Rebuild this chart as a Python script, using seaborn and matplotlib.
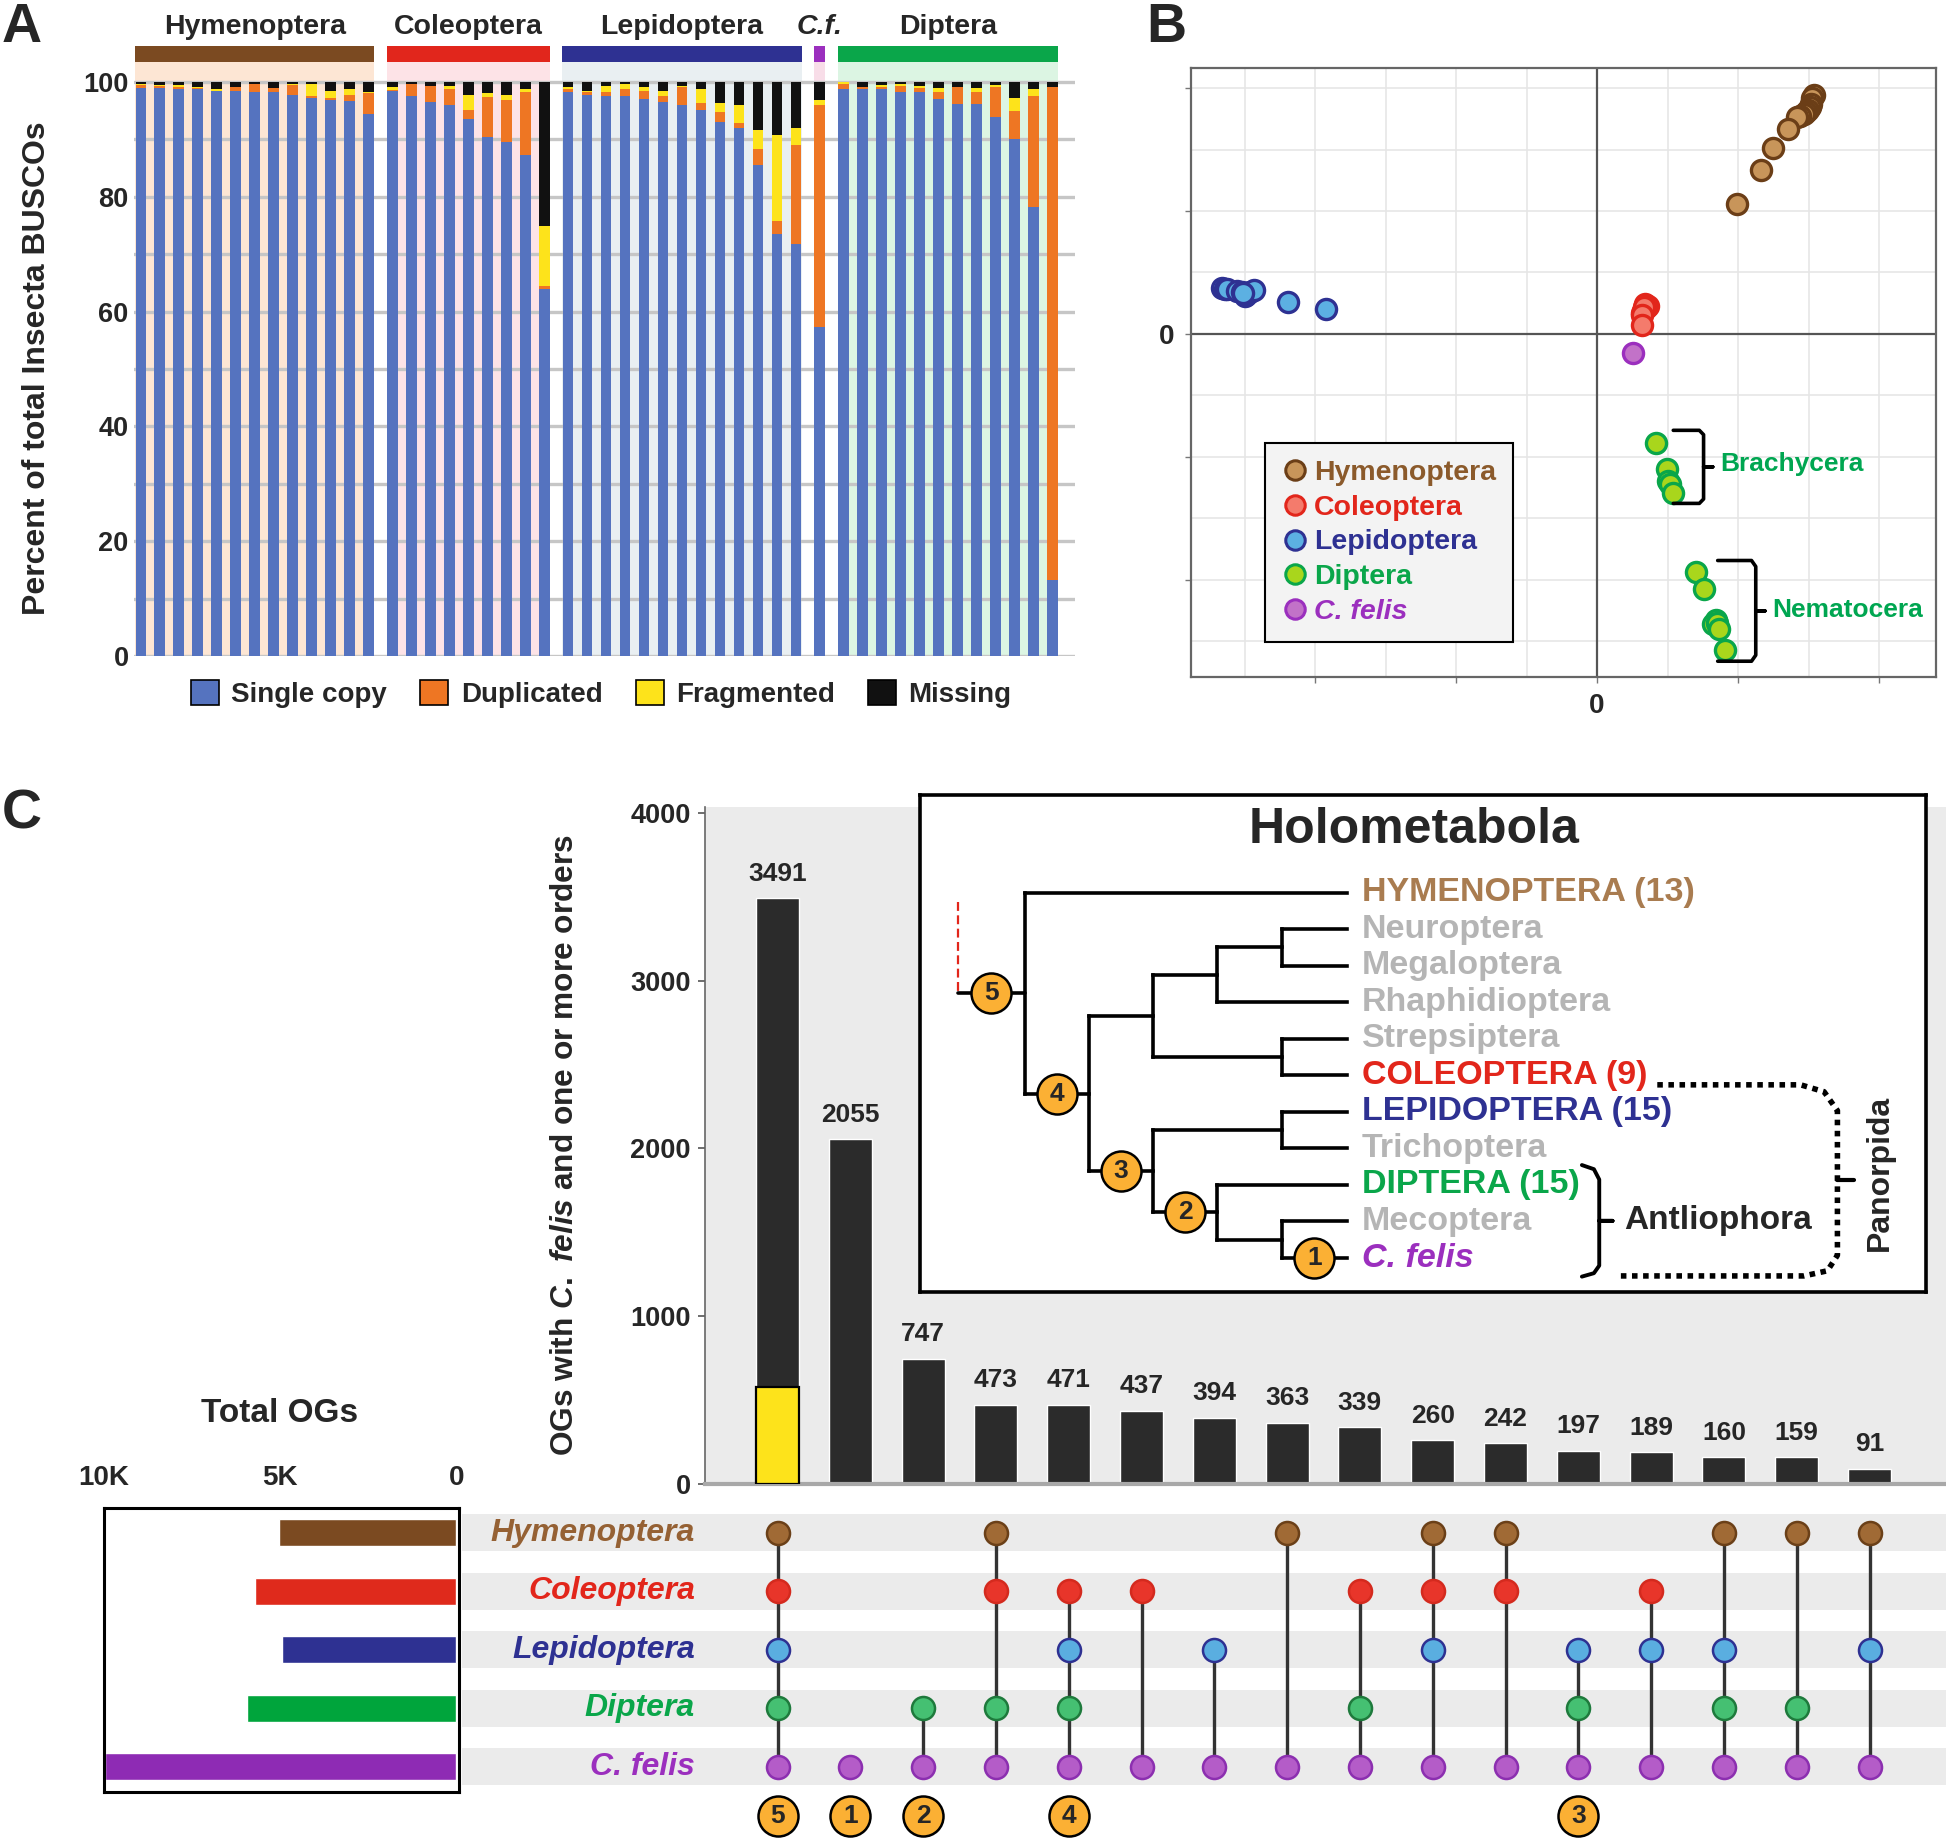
import numpy as np
import pandas as pd
import seaborn as sns
import matplotlib.pyplot as plt
from matplotlib.patches import Patch
from matplotlib.lines import Line2D

sns.set_theme(style='white')
plt.rcParams['font.family'] = ['Liberation Sans', 'DejaVu Sans']
plt.rcParams['font.weight'] = 'bold'
plt.rcParams['mathtext.fontset'] = 'custom'
plt.rcParams['mathtext.it'] = 'Liberation Sans:italic:bold'
plt.rcParams['mathtext.rm'] = 'Liberation Sans:bold'

# ---------------- Panel A data (BUSCO %) ----------------
group_names = ['Hymenoptera', 'Coleoptera', 'Lepidoptera', 'C.f.', 'Diptera']
group_sizes = [13, 9, 13, 1, 12]
group_colors = ['#7b4a21', '#e1261c', '#2e3192', '#9b2fbe', '#0aa64a']
group_shade = ['#fde6d4', '#fde3e7', '#e9eff2', '#f8dde8', '#dcf5e3']

single = [99.0, 99.0, 98.7, 98.7, 98.4, 98.4, 98.3, 98.3, 97.7, 97.2, 96.9, 96.7, 94.5,
          98.4, 97.6, 96.5, 96.0, 93.5, 90.5, 89.6, 87.3, 63.9,
          98.3, 97.7, 97.6, 97.6, 97.0, 96.5, 96.0, 95.1, 93.0, 92.0, 85.5, 73.5, 71.8,
          57.3,
          98.7, 98.7, 98.7, 98.3, 98.3, 97.0, 96.2, 96.2, 93.9, 90.0, 78.3, 13.3]
duplicated = [0.5, 0.3, 0.5, 0.2, 0.1, 0.8, 1.3, 0.7, 1.8, 0.3, 0.3, 1.1, 3.5,
              0.2, 2.1, 2.8, 2.8, 1.7, 6.8, 7.2, 10.9, 0.6,
              0.5, 0.5, 0.7, 1.2, 1.4, 1.1, 3.1, 1.2, 1.7, 0.8, 2.8, 2.3, 17.2,
              38.7,
              1.0, 0.5, 0.5, 1.0, 0.7, 1.3, 3.0, 2.0, 5.3, 5.0, 19.2, 85.9]
fragmented = [0.1, 0.2, 0.2, 0.3, 0.3, 0.0, 0.1, 0.0, 0.2, 2.2, 1.2, 0.9, 0.2,
              0.6, 0.0, 0.0, 0.5, 2.5, 0.7, 1.0, 0.5, 10.4,
              0.3, 0.3, 1.0, 0.8, 0.8, 0.9, 0.2, 2.5, 1.7, 3.2, 3.3, 15.0, 3.0,
              0.8,
              0.3, 0.0, 0.3, 0.4, 0.3, 0.7, 0.0, 0.8, 0.3, 2.2, 1.2, 0.0]
missing = [0.4, 0.5, 0.6, 0.8, 1.2, 0.8, 0.3, 1.0, 0.3, 0.3, 1.6, 1.3, 1.8,
           0.8, 0.3, 0.7, 0.7, 2.3, 2.0, 2.2, 1.3, 25.1,
           0.9, 1.5, 0.7, 0.4, 0.8, 1.5, 0.7, 1.2, 3.6, 4.0, 8.4, 9.2, 8.0,
           3.2,
           0.0, 0.8, 0.5, 0.3, 0.7, 1.0, 0.8, 1.0, 0.5, 2.8, 1.3, 0.8]
busco_labels = ['Single copy', 'Duplicated', 'Fragmented', 'Missing']
busco_colors = ['#5573bf', '#ee7623', '#fde31b', '#111111']

# ---------------- Panel B data (ordination) ----------------
pc_hym_x = [3.07, 3.05, 3.04, 3.02, 2.99, 2.96, 2.94, 2.88, 2.84, 2.71, 2.50, 2.32, 1.99]
pc_hym_y = [3.89, 3.84, 3.75, 3.70, 3.65, 3.62, 3.58, 3.55, 3.53, 3.33, 3.02, 2.67, 2.11]
pc_col_x = [0.68, 0.72, 0.70, 0.66, 0.63, 0.65, 0.67, 0.64, 0.63]
pc_col_y = [0.48, 0.45, 0.42, 0.40, 0.34, 0.38, 0.44, 0.30, 0.15]
pc_lep_x = [-5.32, -5.28, -5.25, -5.10, -5.04, -5.00, -4.98, -4.96, -4.92, -4.86, -4.39, -3.85, -5.02]
pc_lep_y = [0.74, 0.73, 0.73, 0.70, 0.69, 0.62, 0.64, 0.66, 0.68, 0.71, 0.52, 0.40, 0.67]
pc_dip_x = [0.83, 0.99, 1.01, 1.03, 1.08, 1.40, 1.51, 1.69, 1.65, 1.70, 1.73, 1.81]
pc_dip_y = [-1.77, -2.20, -2.40, -2.45, -2.59, -3.87, -4.15, -4.66, -4.73, -4.70, -4.80, -5.14]
pc_cf_x = [0.51]
pc_cf_y = [-0.31]
pc_names = ['Hymenoptera', 'Coleoptera', 'Lepidoptera', 'Diptera', 'C. felis']
pc_fill = ['#c8955a', '#f47b6c', '#5cb0e2', '#a9d61c', '#c272c8']
pc_edge = ['#6b3e17', '#e2261b', '#2e3192', '#0aa64a', '#9b2fbe']
pc_text = ['#8b5a2b', '#e2261b', '#2e3192', '#0aa64a', '#9b2fbe']

# ---------------- Panel C data (UpSet) ----------------
set_names = ['Hymenoptera', 'Coleoptera', 'Lepidoptera', 'Diptera', 'C. felis']
set_sizes = [5030, 5715, 4955, 5935, 9960]
set_colors = ['#7b4a21', '#df2a1c', '#2e3192', '#00a53c', '#8e2bb4']
label_colors = ['#956134', '#e2261b', '#2e3192', '#0aa64a', '#9b2fbe']
dot_fill = ['#a06a35', '#e8352a', '#5aaee0', '#45c072', '#b45cc8']
dot_edge = ['#6b4018', '#d42a1e', '#2e3192', '#1e7a3c', '#8c2fb0']

inter_counts = [3491, 2055, 747, 473, 471, 437, 394, 363, 339, 260, 242, 197, 189, 160, 159, 91]
inter_members = [[0, 1, 2, 3, 4], [4], [3, 4], [0, 1, 3, 4], [1, 2, 3, 4], [1, 4], [2, 4],
                 [0, 4], [1, 3, 4], [0, 1, 2, 4], [0, 1, 4], [2, 3, 4], [1, 2, 4],
                 [0, 2, 3, 4], [0, 3, 4], [0, 2, 4]]
highlight_count = [580]
node_labels = {0: 5, 1: 1, 2: 2, 4: 4, 11: 3}

tree_leaves = ['HYMENOPTERA (13)', 'Neuroptera', 'Megaloptera', 'Rhaphidioptera',
               'Strepsiptera', 'COLEOPTERA (9)', 'LEPIDOPTERA (15)', 'Trichoptera',
               'DIPTERA (15)', 'Mecoptera', 'C. felis']
grey = '#b5b5b5'
leaf_colors = ['#a97c50', grey, grey, grey, grey, '#e2261b', '#2e3192', grey,
               '#0aa64a', grey, '#9b2fbe']
tree_nodes = {
    'root': (['HYMENOPTERA (13)', 'n4'], 0),
    'n4': (['nA', 'n3'], 1),
    'nA': (['nB', 'nSC'], 2),
    'nB': (['nNM', 'Rhaphidioptera'], 3),
    'nNM': (['Neuroptera', 'Megaloptera'], 4),
    'nSC': (['Strepsiptera', 'COLEOPTERA (9)'], 4),
    'n3': (['nLT', 'n2'], 2),
    'nLT': (['LEPIDOPTERA (15)', 'Trichoptera'], 4),
    'n2': (['DIPTERA (15)', 'n1'], 3),
    'n1': (['Mecoptera', 'C. felis'], 4),
}
tree_marks = {'root': 5, 'n4': 4, 'n3': 3, 'n2': 2, 'C. felis': 1}

fig = plt.figure(figsize=(19.46, 18.38), dpi=100)

# ====================== Panel A ======================
axA = fig.add_axes([0.0689, 0.6431, 0.4836, 0.3326])
pos = []
for g, n in enumerate(group_sizes):
    start = sum(group_sizes[:g])
    pos += [start + k + g * 0.25 for k in range(n)]
pos = np.array(pos)
bw = 0.55
start = 0
for g, n in enumerate(group_sizes):
    x0, x1 = pos[start] - 0.3, pos[start + n - 1] + 0.3
    axA.fill_between([x0, x1], 0, 103.4, color=group_shade[g], zorder=0, lw=0)
    axA.fill_between([x0, x1], 103.4, 106.3, color=group_colors[g], zorder=1, lw=0)
    lab_style = 'italic' if group_names[g] == 'C.f.' else 'normal'
    axA.text((x0 + x1) / 2, 109.6, group_names[g], ha='center', va='center',
             fontsize=20.5, fontweight='bold', style=lab_style, clip_on=False)
    start += n
for yv in range(0, 101, 10):
    axA.axhline(yv, color='#c6c6c6', lw=2.4, zorder=0.5)
bottom = np.zeros(len(pos))
for vals, col in zip([single, duplicated, fragmented, missing], busco_colors):
    axA.bar(pos, vals, bottom=bottom, width=bw, color=col, lw=0, zorder=2)
    bottom += np.array(vals)
axA.set_xlim(-0.35, 49.2)
axA.set_ylim(0, 106.5)
axA.set_xticks([])
axA.set_yticks(range(0, 101, 20))
axA.tick_params(axis='y', length=0, pad=4, labelsize=19.5)
for s in axA.spines.values():
    s.set_visible(False)
axA.set_ylabel('Percent of total Insecta BUSCOs', fontsize=23, fontweight='bold', labelpad=10)
axA.yaxis.set_label_coords(-0.087, 0.47)
handlesA = [Patch(facecolor=c, edgecolor='black', lw=1.2) for c in busco_colors]
fig.legend(handlesA, busco_labels, ncol=4, loc='center', bbox_to_anchor=(0.309, 0.6224),
           frameon=False, handlelength=1.0, handleheight=1.0, handletextpad=0.45,
           columnspacing=1.2, prop={'size': 20, 'weight': 'bold'})

# ====================== Panel B ======================
axB = fig.add_axes([0.612, 0.6319, 0.383, 0.3311])
pc_x = [pc_hym_x, pc_col_x, pc_lep_x, pc_dip_x, pc_cf_x]
pc_y = [pc_hym_y, pc_col_y, pc_lep_y, pc_dip_y, pc_cf_y]
axB.axhline(0, color='#555555', lw=1.6, zorder=1)
axB.axvline(0, color='#555555', lw=1.6, zorder=1)
for i, name in enumerate(pc_names):
    df = pd.DataFrame({'x': pc_x[i], 'y': pc_y[i]})
    sns.scatterplot(data=df, x='x', y='y', color=pc_fill[i], edgecolor=pc_edge[i],
                    linewidth=2.4, s=210, ax=axB, zorder=3)
axB.set_xlim(-5.76, 4.81)
axB.set_ylim(-5.58, 4.33)
axB.set_xticks([-4, -2, 0, 2, 4])
axB.set_xticklabels(['', '', '0', '', ''])
axB.set_yticks([-4, -2, 0, 2, 4])
axB.set_yticklabels(['', '', '0', '', ''])
axB.set_xticks(range(-5, 5), minor=True)
axB.set_yticks(range(-5, 5), minor=True)
axB.grid(which='both', color='#e6e6e6', lw=1.2, zorder=0)
axB.set_axisbelow(True)
axB.tick_params(which='major', length=4, color='#777777', width=1, labelsize=20,
                direction='out', bottom=True, left=True, pad=8)
axB.tick_params(which='minor', length=0)
axB.set_xlabel('')
axB.set_ylabel('')
for s in axB.spines.values():
    s.set_color('#666666')
    s.set_linewidth(1.6)


def bracket(ax, xl, xr, yt, yb, xt, color='black', lw=2.6):
    r = 0.06 * (yt - yb)
    xs = [xl, xr - 0.06, xr, xr, xr, xt, xr, xr, xr, xr - 0.06, xl]
    ym = (yt + yb) / 2
    ys = [yt, yt, yt - r, ym, ym, ym, ym, ym, yb + r, yb, yb]
    ax.plot(xs, ys, color=color, lw=lw, solid_capstyle='round', zorder=4)


bracket(axB, 1.08, 1.51, -1.57, -2.76, 1.64)
axB.text(1.74, -2.12, 'Brachycera', color='#00a651', fontsize=19, fontweight='bold',
         ha='left', va='center')
bracket(axB, 1.71, 2.25, -3.69, -5.33, 2.38)
axB.text(2.48, -4.50, 'Nematocera', color='#00a651', fontsize=19, fontweight='bold',
         ha='left', va='center')
handlesB = [Line2D([], [], marker='o', ls='', markersize=14, markerfacecolor=f,
                   markeredgecolor=e, markeredgewidth=2.2) for f, e in zip(pc_fill, pc_edge)]
legB = axB.legend(handlesB, pc_names, loc='upper left', bbox_to_anchor=(0.1, 0.3833),
                  frameon=True, fancybox=False, edgecolor='black', facecolor='#f3f3f3',
                  framealpha=1, handlelength=0.9, handletextpad=0.2, labelspacing=0.3,
                  borderpad=0.6, borderaxespad=0,
                  prop={'size': 20.5, 'weight': 'bold'})
legB.get_frame().set_linewidth(1.5)
for t, c in zip(legB.get_texts(), pc_text):
    t.set_color(c)
legB.get_texts()[-1].set_style('italic')

# ====================== Panel C: intersection bars ======================
axC = fig.add_axes([0.3622, 0.1926, 0.6378, 0.3686])
axC.set_facecolor('#ebebeb')
sns.barplot(x=list(range(len(inter_counts))), y=inter_counts, color='#2b2b2b',
            saturation=1, width=0.59, ax=axC, zorder=2)
axC.bar([0], highlight_count, width=0.59, color='#fde31b', edgecolor='black', lw=1.6, zorder=3)
for i, v in enumerate(inter_counts):
    axC.text(i, v + 75, str(v), ha='center', va='bottom', fontsize=19, fontweight='bold')
axC.set_xlim(-0.997, 16.05)
axC.set_ylim(0, 4037)
axC.set_xticks([])
axC.set_yticks(range(0, 4001, 1000))
axC.tick_params(axis='y', length=5, width=1.2, color='#555555', left=True,
                labelsize=19.5, pad=5)
axC.set_xlabel('')
axC.set_ylabel('')
axC.spines['top'].set_visible(False)
axC.spines['right'].set_visible(False)
axC.spines['left'].set_color('#666666')
axC.spines['left'].set_linewidth(1.2)
axC.spines['bottom'].set_color('#a8a8a8')
axC.spines['bottom'].set_linewidth(3)
fig.text(0.2902, 0.3768, r'OGs with $\mathit{C.\ felis}$ and one or more orders',
         rotation=90, ha='center', va='center', fontsize=22.8, fontweight='bold')

# ---------------- tree inset ----------------
axT = fig.add_axes([0.4728, 0.297, 0.517, 0.2707])
axT.set_facecolor('white')
axT.set_xlim(30, 1538)
axT.set_ylim(1487, 42)
axT.set_xticks([])
axT.set_yticks([])
for s in axT.spines.values():
    s.set_color('black')
    s.set_linewidth(2.6)

leaf_y = {name: 327 + i * 106.1 for i, name in enumerate(tree_leaves)}
tip_x = 670
node_xy = {}


def place(name):
    if name in leaf_y:
        return tip_x, leaf_y[name]
    kids, level = tree_nodes[name]
    ys = [place(k)[1] for k in kids]
    xy = (187 + level * 96.25, sum(ys) / len(ys))
    node_xy[name] = xy
    return xy


place('root')
parent_x = {'root': 87}
for name, (kids, level) in tree_nodes.items():
    nx, ny = node_xy[name]
    kid_pos = [place(k) for k in kids]
    axT.plot([nx, nx], [min(p[1] for p in kid_pos), max(p[1] for p in kid_pos)],
             color='black', lw=2.6, solid_capstyle='projecting')
    for k, (kx, ky) in zip(kids, kid_pos):
        axT.plot([nx, kx], [ky, ky], color='black', lw=2.6, solid_capstyle='projecting')
        parent_x[k] = nx
rx, ry = node_xy['root']
axT.plot([87, rx], [ry, ry], color='black', lw=2.6)
axT.plot([87, 87], [355, ry], color='#e2261b', lw=1.6, ls=(0, (4, 2)))
for name, num in tree_marks.items():
    cx, cy = node_xy[name] if name in node_xy else (tip_x, leaf_y[name])
    mx = (parent_x[name] + cx) / 2
    axT.scatter([mx], [cy], s=830, color='#fbb034', edgecolor='black', lw=1.8, zorder=5)
    axT.text(mx, cy, str(num), ha='center', va='center', fontsize=19, fontweight='bold', zorder=6)
for name, col in zip(tree_leaves, leaf_colors):
    axT.text(692, leaf_y[name], name, color=col, fontsize=24.5, fontweight='bold',
             ha='left', va='center', style='italic' if name == 'C. felis' else 'normal')
axT.text(770, 145, 'Holometabola', ha='center', va='center', fontsize=36, fontweight='bold')
axT.plot([1022, 1040, 1048, 1048, 1048, 1068, 1048, 1048, 1040, 1022],
         [1118, 1130, 1160, 1280, 1280, 1280, 1280, 1410, 1432, 1442],
         color='black', lw=2.8)
axT.text(1085, 1280, 'Antliophora', fontsize=24, fontweight='bold', ha='left', va='center')
axT.plot([1135, 1350, 1385, 1405, 1405, 1390, 1355, 1075],
         [885, 885, 905, 960, 1380, 1425, 1440, 1440], color='black', lw=4, ls=(0, (1, 1)))
axT.plot([1405, 1430], [1160, 1160], color='black', lw=3)
axT.text(1468, 1140, 'Panorpida', rotation=90, fontsize=23, fontweight='bold',
         ha='center', va='center')

# ---------------- matrix ----------------
axM = fig.add_axes([0.2374, 0.025, 0.7626, 0.1545])
axM.set_xlim(-4.335, 16.05)
axM.set_ylim(4.432, -0.422)
for r in range(len(set_names)):
    axM.axhspan(r - 0.32, r + 0.32, color='#ebebeb', lw=0, zorder=0)
    axM.text(-1.135, r, set_names[r], color=label_colors[r], fontsize=23, fontweight='bold',
             style='italic', ha='right', va='center')
for i, mem in enumerate(inter_members):
    axM.plot([i, i], [min(mem), max(mem)], color='#333333', lw=2.4, zorder=1)
    for r in mem:
        axM.scatter([i], [r], s=275, color=dot_fill[r], edgecolor=dot_edge[r], lw=1.8, zorder=2)
for i, num in node_labels.items():
    axM.scatter([i], [4.84], s=830, color='#fbb034', edgecolor='black', lw=1.8,
                zorder=5, clip_on=False)
    axM.text(i, 4.84, str(num), ha='center', va='center', fontsize=19, fontweight='bold',
             zorder=6, clip_on=False)
axM.axis('off')

# ---------------- set sizes ----------------
axS = fig.add_axes([0.0534, 0.025, 0.1824, 0.1545])
sns.barplot(x=set_sizes, y=set_names, hue=set_names, palette=set_colors, orient='h',
            saturation=1, width=0.46, legend=False, ax=axS)
axS.set_xlim(10000, -70)
axS.set_ylim(4.432, -0.422)
axS.set_yticks([])
axS.set_xticks([10000, 5000, 0])
axS.set_xticklabels(['10K', '5K', '0'])
axS.xaxis.tick_top()
axS.tick_params(axis='x', length=0, pad=12, labelsize=20)
axS.set_xlabel('')
axS.set_ylabel('')
for s in axS.spines.values():
    s.set_color('black')
    s.set_linewidth(2.2)
fig.text(0.1435, 0.231, 'Total OGs', ha='center', va='center', fontsize=24, fontweight='bold')

# panel letters
fig.text(0.001, 0.999, 'A', fontsize=40, fontweight='bold', ha='left', va='top')
fig.text(0.589, 0.999, 'B', fontsize=40, fontweight='bold', ha='left', va='top')
fig.text(0.001, 0.571, 'C', fontsize=40, fontweight='bold', ha='left', va='top')

fig.savefig('out.png', dpi=100)
